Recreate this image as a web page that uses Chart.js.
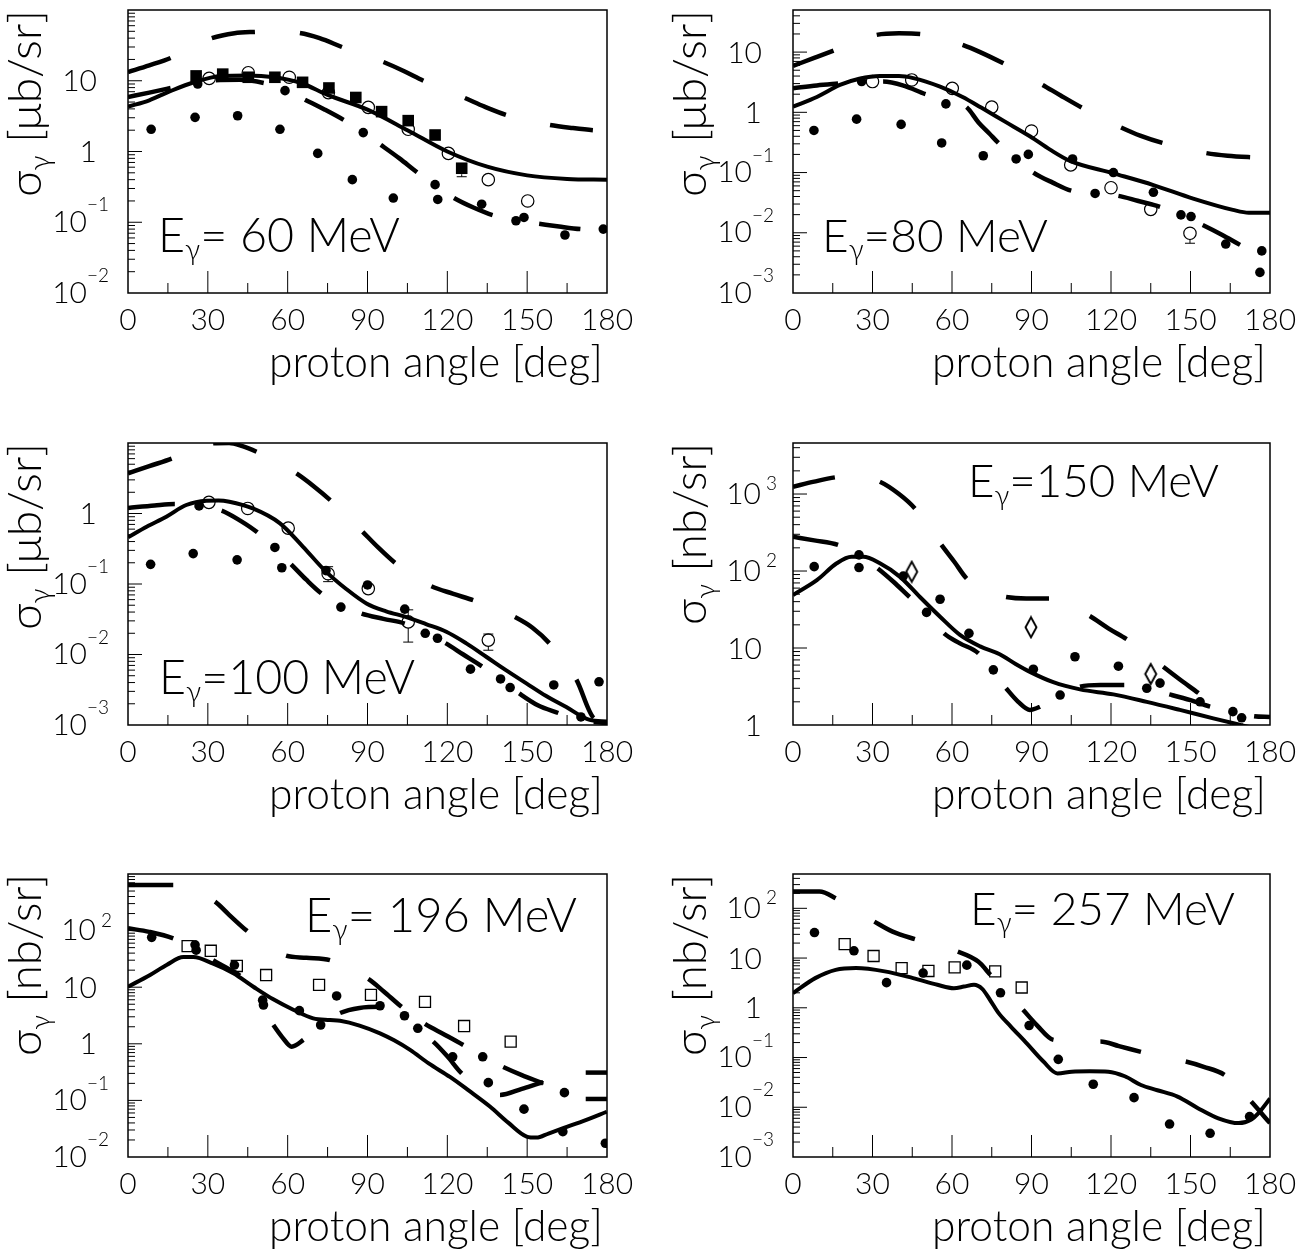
<!DOCTYPE html>
<html>
<head>
<meta charset="utf-8">
<script src="https://cdn.jsdelivr.net/npm/chart.js@4.4.0/dist/chart.umd.min.js"></script>
<style>
  html, body { margin: 0; padding: 0; background: #fff; }
  #wrap { position: relative; width: 1310px; height: 1254px; }
  #wrap canvas { position: absolute; left: 0; top: 0; }
</style>
</head>
<body>
<div id="wrap"></div>
<script>
const FONT = "Lato, 'Open Sans', 'DejaVu Sans', sans-serif";
const W = 1310, H = 1254;

const xTickLabels = [0, 30, 60, 90, 120, 150, 180];
const energyText = ['= 60 MeV', '=80 MeV', '=100 MeV', '=150 MeV', '= 196 MeV', '= 257 MeV'];
const unitText = ['μb/sr', 'μb/sr', 'μb/sr', 'nb/sr', 'nb/sr', 'nb/sr'];

// E = 60 MeV
const p1YTicks = [0.01, 0.1, 1, 10];
const p1Solid = [[0,4.3],[8,5.3],[15,6.9],[25,9.6],[35,11.7],[45,11.9],[55,11.2],[65,9.3],[75,6.3],[90,3.9],[105,2.0],[120,1.0],[135,0.61],[150,0.46],[165,0.41],[180,0.40]];
const p1DashA = [[0,13.3],[8,16.5],[16,21],[24,30],[31.5,40],[40,47],[47.7,49],[56,50],[64.6,47.3],[72,40],[80.4,30],[88,23.5],[96,18.4],[104,13.5],[111,10],[119,7.5],[126.6,5.7],[134,4.3],[142,3.3],[150,2.75],[158.6,2.37],[167,2.15],[174.7,2.0],[180,1.95]];
const p1DashB = [[0,5.9],[8,6.8],[16,7.9],[24,9.2],[33,10.2],[42,10.3],[51,9.3],[59,7.5],[66.5,5.4],[74,3.9],[81,2.8],[88,1.9],[95,1.24],[102,0.8],[108.6,0.51],[115,0.34],[122.5,0.22],[130,0.16],[137,0.126],[146,0.105],[154.5,0.095],[162,0.087],[170,0.080],[180,0.076]];
const p1Dots = [[8.7,2.06],[25.2,3.04],[26.2,9.0],[41.2,3.2],[57.1,2.06],[59,7.25],[71.3,0.94],[84.3,0.40],[88.4,1.85],[99.7,0.22],[115.4,0.34],[116.4,0.21],[132.9,0.18],[145.8,0.105],[148.8,0.117],[164.2,0.066],[178.6,0.080]];
const p1FullSquares = [[25.6,11.7],[35.6,12.4],[45.2,11.2],[55.2,11.2],[65.6,9.5],[75.5,7.9],[85.6,5.8],[95.3,3.66],[105.3,2.73],[115.4,1.71],[125.4,0.58]];
const p1Circles = [[30.5,10.8],[45.2,13.0],[60.6,11.2],[75.3,6.8],[90.3,4.2],[105.3,2.06],[120.4,0.94],[135.4,0.40],[150.2,0.20]];
const p1Errors = [[125.4,0.58,0.44,0.66]];

// E = 80 MeV
const p2YTicks = [0.001, 0.01, 0.1, 1, 10];
const p2Solid = [[0,1.24],[9,1.8],[17.7,2.85],[25,3.6],[32.8,4.0],[40,4.0],[45.4,3.7],[55.5,2.67],[64,1.8],[71,1.2],[80,0.7],[89.4,0.40],[97,0.24],[104.5,0.156],[120.9,0.097],[136,0.062],[151,0.037],[166,0.024],[172,0.0215],[180,0.0215]];
const p2DashA = [[0,5.9],[8,8],[15.3,10.6],[24,15],[31.6,19.3],[40,20.5],[48,20],[56,17],[64,13.2],[70.6,10],[79.4,6.5],[87,4.3],[94.2,2.85],[101,1.9],[108.9,1.2],[116,0.82],[123.8,0.56],[131,0.41],[139.4,0.31],[148,0.25],[156,0.21],[164,0.19],[172.5,0.18],[180,0.175]];
const p2DashB = [[0,2.5],[9,2.8],[17,3.0],[25,3.2],[34,3.24],[42,2.75],[50,2.0],[58,1.6],[65.5,1.22],[70,0.68],[74,0.45],[77.5,0.31],[84,0.17],[90.7,0.10],[98,0.068],[105,0.05],[114,0.045],[122.8,0.041],[130,0.034],[138.5,0.027],[146,0.02],[154.6,0.0135],[162,0.0092],[168.7,0.0063],[175,0.0045],[180,0.0035]];
const p2Dots = [[7.9,0.50],[24,0.77],[25.9,3.24],[40.8,0.63],[56.1,0.31],[57.7,1.38],[71.8,0.19],[84.2,0.168],[88.8,0.20],[105.5,0.168],[114,0.045],[120.9,0.10],[136,0.047],[146.4,0.0198],[150.2,0.0186],[163.3,0.0065],[176.9,0.005],[176.2,0.0022]];
const p2Circles = [[30,3.24],[44.8,3.45],[60.1,2.5],[75,1.22],[90,0.49],[104.8,0.134],[120,0.056],[135,0.0245],[149.8,0.0098]];
const p2Errors = [[104.8,0.134,0.110,0.134],[120,0.056,0.046,0.056],[135,0.0245,0.0198,0.0245],[149.8,0.0098,0.0067,0.0122]];

// E = 100 MeV
const p3YTicks = [0.001, 0.01, 0.1, 1];
const p3Solid = [[0,0.46],[7,0.65],[14.4,0.90],[21.9,1.32],[29.4,1.52],[34,1.53],[38.1,1.47],[46.9,1.18],[57,0.73],[65.7,0.34],[74,0.155],[82,0.085],[89.6,0.053],[97,0.041],[104.6,0.034],[112,0.027],[119.6,0.021],[127,0.0145],[134.6,0.0093],[142,0.006],[149.7,0.0039],[157,0.0026],[164.7,0.0018],[173.5,0.00118],[180,0.00112]];
const p3DashA = [[0,3.7],[8,4.7],[16.4,6.0],[24,8.0],[32,9.9],[38,10.0],[43,9.0],[48.3,7.5],[56,5.4],[63.3,3.7],[70,2.4],[76,1.55],[82,0.95],[88.2,0.55],[94,0.33],[100.3,0.2],[107,0.13],[114,0.093],[122,0.073],[129.7,0.059],[137,0.047],[145.4,0.034],[152,0.024],[158.3,0.0145],[163,0.0085],[168.5,0.0044],[175,0.00126],[180,0.0011]];
const p3DashB = [[0,1.2],[10,1.3],[17.6,1.36],[26,1.3],[35.2,1.1],[42,0.8],[48.6,0.54],[55,0.32],[61.3,0.19],[67,0.115],[72.6,0.074],[80,0.05],[87.8,0.038],[96,0.032],[104,0.0275],[112,0.02],[119.3,0.0145],[126,0.01],[133,0.0068],[140,0.0044],[147,0.0028],[154,0.0019],[161.7,0.00148],[168,0.00122],[175,0.0011],[180,0.00107]];
const p3Dots = [[8.5,0.19],[24.5,0.27],[26.7,1.28],[41,0.22],[55.2,0.33],[57.8,0.17],[74.4,0.155],[80,0.047],[90,0.097],[104,0.044],[111.7,0.020],[116.3,0.017],[128.7,0.0062],[140,0.0045],[143.6,0.0034],[160,0.0037],[170.2,0.0013],[177,0.0041]];
const p3Circles = [[30.4,1.44],[45,1.18],[60.2,0.62],[75.2,0.14],[90.3,0.086],[105.3,0.029],[135.4,0.016]];
const p3Errors = [[75.2,0.14,0.108,0.176],[90.3,0.086,0.074,0.102],[105.3,0.029,0.015,0.043],[135.4,0.016,0.0115,0.0195]];

// E = 150 MeV
const p4YTicks = [1, 10, 100, 1000];
const p4Solid = [[0,48.8],[9,76],[16.5,126],[22.1,153],[26.5,153],[32.8,126],[40.4,84],[47.9,46],[55.5,25.5],[63,14.8],[70.6,10.5],[78,8.3],[84,6.2],[89.4,4.9],[98.2,3.6],[108.3,2.9],[120.9,2.5],[133.5,2.0],[146,1.57],[158.6,1.22],[167.4,1.03],[175,0.9],[180,0.85]];
const p4DashA = [[0,1245],[8,1450],[15.8,1645],[24,1750],[32.8,1445],[40,1000],[46,650],[51,380],[56,218],[61,130],[65.5,80],[72,55],[80.4,46],[88,44],[96.6,44],[104,36],[112,26],[119,18],[125.9,13],[133,8.7],[139.7,5.7],[146,3.9],[153,2.6],[161,1.6],[169,1.0],[175,0.7],[180,0.55]];
const p4DashB = [[0,279],[8,250],[17,218],[25,160],[32,108],[38,72],[44,46],[50,30],[57,15.5],[63,11.5],[70,8.5],[75,5],[80.4,3.0],[85,2.0],[89.4,1.57],[93.2,1.73],[100,2.4],[108.3,3.15],[116,3.3],[125,3.3],[133,3.0],[142,2.5],[150,2.1],[157.4,1.73],[165,1.5],[174,1.3],[180,1.27]];
const p4Dots = [[8,114],[24.9,162],[24.9,111],[41.6,86],[50.4,29],[55.5,43],[66.4,15.5],[75.6,5.2],[90.7,5.3],[100.8,2.45],[106.4,7.7],[122.8,5.8],[133.5,3.0],[138.5,3.5],[153.6,2.0],[166,1.49],[169.3,1.24]];
const p4Diamonds = [[44.8,98],[89.8,18.6],[135,4.6]];

// E = 196 MeV
const p5YTicks = [0.01, 0.1, 1, 10, 100];
const p5Solid = [[0,10.2],[8.3,16.4],[14.5,24.7],[20.8,34],[24.5,34],[32,26],[39.6,17.6],[47.1,10.2],[54.6,6.1],[62.1,4.0],[69.6,2.82],[75.9,2.63],[79.7,2.55],[87,2.1],[94.7,1.53],[100,1.15],[106,0.78],[113,0.45],[121,0.26],[128,0.15],[136,0.078],[143,0.04],[149.8,0.023],[153.5,0.022],[158,0.026],[164.9,0.034],[172,0.045],[179.9,0.063]];
const p5DashA = [[0,640],[8,640],[17,640],[24,510],[32.7,324],[38,190],[44.8,98],[52,55],[59.4,36],[67,33],[75.9,30],[83,21],[90.3,14],[96,8.5],[102.8,4.5],[111.6,2.24],[119,1.45],[126,0.95],[133,0.6],[141,0.39],[148,0.28],[156,0.2],[164,0.14],[172,0.106],[180,0.106]];
const p5DashB = [[0,110],[8,95],[17,73],[25,48],[32,30],[37,22],[42,16],[48,6.5],[54.6,2.15],[58,1.3],[61.5,0.89],[65.9,1.17],[72,2.1],[79.7,3.5],[87,4.3],[95.3,4.5],[105,2.4],[114.7,1.09],[120,0.6],[125.4,0.30],[132,0.18],[139.8,0.125],[148,0.16],[156,0.21],[164,0.26],[172,0.31],[180,0.31]];
const p5Dots = [[8.9,76],[25.2,56],[25.6,45],[40,24.6],[50.6,5.9],[50.9,4.85],[64.4,3.85],[72.4,2.15],[78.4,7.0],[94.7,4.7],[103.9,3.13],[108.9,1.88],[122,0.59],[133.3,0.59],[135.4,0.206],[148.8,0.07],[164,0.137],[163.4,0.028],[179.4,0.0175]];
const p5OpenSquares = [[22.4,53],[31.1,44],[40.9,23.7],[51.9,16.4],[71.8,11],[91.3,7.3],[111.6,5.5],[126.3,2.06],[143.8,1.09]];

// E = 257 MeV
const p6YTicks = [0.001, 0.01, 0.1, 1, 10, 100];
const p6Solid = [[0,1.97],[8.4,3.95],[16.1,5.8],[23.8,6.3],[34.6,5.4],[45.3,3.95],[54.5,2.9],[60.7,2.48],[64.5,2.67],[68.3,2.9],[71.4,2.4],[74.5,1.4],[77.6,0.78],[82.2,0.42],[88.3,0.19],[94.5,0.083],[99.8,0.048],[105.2,0.052],[112,0.053],[119,0.052],[125.2,0.042],[131.3,0.028],[137.5,0.022],[145.1,0.0164],[152.8,0.0096],[160.5,0.006],[168.2,0.0048],[172.8,0.0056],[176,0.008],[180,0.015]];
const p6DashA = [[0,218],[10,218],[16.1,160],[23,95],[30.7,54],[37.6,34],[46,24],[54,18],[62.2,13.5],[69.9,8.5],[74.5,4.6],[80,2.2],[86.8,0.91],[92,0.45],[98.3,0.226],[107,0.21],[116,0.21],[123,0.17],[131.3,0.13],[140,0.1],[148.2,0.083],[155,0.065],[162.8,0.045],[168,0.025],[172.9,0.013],[180,0.0048]];
const p6Dots = [[8.1,32.6],[23,14],[35.3,3.2],[49.1,5.0],[65.6,7.2],[78.3,2.0],[89.1,0.44],[100.1,0.092],[113.3,0.029],[128.7,0.0156],[142.1,0.0046],[157.4,0.003],[172.3,0.0065]];
const p6OpenSquares = [[19.5,19],[30.4,11],[41,6.3],[51.1,5.5],[61,6.5],[76.3,5.4],[86.3,2.56]];

// angle ranges where each long-dashed curve is inked (the dash pattern)
const p1DashAOn = [[0,16],[31.5,47.7],[64.6,80.4],[96,111],[126.6,142],[158.6,174.7]];
const p1DashBOn = [[0,16],[33,51],[66.5,81],[95,108.6],[122.5,137],[154.5,170]];
const p2DashAOn = [[0,15.3],[31.6,48],[64,79.4],[94.2,108.9],[123.8,139.4],[156,172.5]];
const p2DashBOn = [[0,17],[34,50],[65.5,77.5],[90.7,105],[122.8,138.5],[154.6,168.7]];
const p3DashAOn = [[0,16.4],[32,48.3],[63.3,76],[88.2,100.3],[114,129.7],[145.4,158.3],[168.5,175]];
const p3DashBOn = [[0,17.6],[35.2,48.6],[61.3,72.6],[87.8,104],[119.3,133],[147,161.7],[175,180]];
const p4DashAOn = [[0,15.8],[32.8,46],[56,65.5],[80.4,96.6],[112,125.9],[139.7,153],[169,180]];
const p4DashBOn = [[0,17],[32,44],[57,70],[80.4,93.2],[108.3,125],[142,157.4],[174,180]];
const p5DashAOn = [[0,17],[32.7,44.8],[59.4,75.9],[90.3,102.8],[111.6,126],[141,156],[172,180]];
const p5DashBOn = [[0,17],[32,42],[54.6,65.9],[79.7,95.3],[114.7,125.4],[139.8,156],[172,180]];
const p6DashAOn = [[0,16.1],[30.7,46],[62.2,74.5],[86.8,98.3],[116,131.3],[148.2,162.8],[172.9,180]];

// frame of each panel in page pixels: left, right, top, bottom
const frames = [[128,607,10,293],[793,1270,10,293],[128,607,443,725],[793,1270,443,725],[128,607,874,1157],[793,1270,874,1157]];
const yRanges = [[0.01,100],[0.001,50],[0.001,10],[1,4600],[0.01,1000],[0.001,490]];
// energy label: x, baseline, width
const energyPos = [[158,252,242],[822,252,226],[159,694,256],[968,497,251],[305,932,272],[970,925,265]];

function pts(a) { return a.map(p => ({ x: p[0], y: p[1] })); }

function solidLine(d) {
  return { data: pts(d), borderColor: '#000', borderWidth: 4, pointRadius: 0, pointHoverRadius: 0,
    cubicInterpolationMode: 'monotone', fill: false };
}
function dashLine(d, on) {
  const data = pts(d);
  return Object.assign(solidLine(d), {
    data, borderWidth: 4.5, borderCapStyle: 'butt',
    segment: {
      borderColor: c => {
        const m = (data[c.p0DataIndex].x + data[c.p1DataIndex].x) / 2;
        return on.some(r => m >= r[0] && m <= r[1]) ? '#000' : 'rgba(0,0,0,0)';
      }
    }
  });
}
function dots(d) {
  return { data: pts(d), showLine: false, pointStyle: 'circle', pointRadius: 4.8,
    pointBackgroundColor: '#000', pointBorderWidth: 0 };
}
function openCircles(d) {
  return { data: pts(d), showLine: false, pointStyle: 'circle', pointRadius: 6.2,
    pointBackgroundColor: 'rgba(0,0,0,0)', pointBorderColor: '#000', pointBorderWidth: 1.2 };
}
function fullSquares(d) {
  return { data: pts(d), showLine: false, pointStyle: 'rect', pointRadius: 8.2,
    pointBackgroundColor: '#000', pointBorderWidth: 0 };
}
function openSquares(d) {
  return { data: pts(d), showLine: false, pointStyle: 'rect', pointRadius: 7.8,
    pointBackgroundColor: 'rgba(0,0,0,0)', pointBorderColor: '#000', pointBorderWidth: 1.3 };
}

// tall open diamond, like the PAW marker
const diamondImg = document.createElement('canvas');
diamondImg.width = 16; diamondImg.height = 24;
(function () {
  const c = diamondImg.getContext('2d');
  c.strokeStyle = '#000'; c.lineWidth = 1.9;
  c.beginPath(); c.moveTo(8, 2); c.lineTo(13.5, 12); c.lineTo(8, 22); c.lineTo(2.5, 12); c.closePath();
  c.stroke();
})();
function diamonds(d) {
  return { data: pts(d), showLine: false, pointStyle: diamondImg, pointRadius: 10 };
}

function richWidth(ctx, parts, size) {
  let w = 0;
  parts.forEach(p => { ctx.font = `300 ${size * p.s}px ${FONT}`; w += ctx.measureText(p.t).width; });
  return w;
}
function drawRich(ctx, parts, x, y, size) {
  let cx = x;
  ctx.textAlign = 'left';
  ctx.textBaseline = 'alphabetic';
  parts.forEach(p => {
    ctx.font = `300 ${size * p.s}px ${FONT}`;
    ctx.fillText(p.t, cx, y + (p.dy || 0) * size);
    cx += ctx.measureText(p.t).width;
  });
}
function fitSize(ctx, parts, width) {
  return 40 * width / richWidth(ctx, parts, 40);
}

function yLabel(ctx, v, L, y) {
  const e = Math.round(Math.log10(v));
  ctx.fillStyle = '#000';
  ctx.textBaseline = 'middle';
  ctx.font = `300 30px ${FONT}`;
  if (e === 0 || e === 1) {
    ctx.textAlign = 'right';
    ctx.fillText(e === 0 ? '1' : '10', L - 31, y + 1);
    return;
  }
  const neg = e < 0;
  const base = neg ? L - 41 : L - 32;
  ctx.textAlign = 'right';
  ctx.fillText('10', base, y);
  ctx.font = `300 19px ${FONT}`;
  ctx.textAlign = 'left';
  ctx.fillText((neg ? '\u2212' : '') + Math.abs(e), neg ? base : base + 5, y - (neg ? 17 : 10));
}

const pawFrame = {
  id: 'pawFrame',
  afterDatasetsDraw(chart, args, o) {
    const ctx = chart.ctx, a = chart.chartArea, xs = chart.scales.x, ys = chart.scales.y;
    ctx.save();
    ctx.strokeStyle = '#000';
    ctx.fillStyle = '#000';

    // error bars, kept outside the marker
    ctx.lineWidth = 1;
    (o.errors || []).forEach(e => {
      const px = xs.getPixelForValue(e[0]), py = ys.getPixelForValue(e[1]);
      const lo = ys.getPixelForValue(e[2]), hi = ys.getPixelForValue(e[3]);
      ctx.beginPath();
      if (lo > py + 6) { ctx.moveTo(px, py + 6); ctx.lineTo(px, lo); ctx.moveTo(px - 5, lo); ctx.lineTo(px + 5, lo); }
      if (hi < py - 6) { ctx.moveTo(px, py - 6); ctx.lineTo(px, hi); ctx.moveTo(px - 5, hi); ctx.lineTo(px + 5, hi); }
      ctx.stroke();
    });

    // frame
    ctx.lineWidth = 1.5;
    ctx.strokeRect(a.left, a.top, a.right - a.left, a.bottom - a.top);

    // x ticks, inside
    ctx.lineWidth = 1;
    ctx.beginPath();
    for (let d = 15; d < 180; d += 15) {
      const px = xs.getPixelForValue(d);
      ctx.moveTo(px, a.bottom);
      ctx.lineTo(px, a.bottom - (d % 30 === 0 ? 22 : 10));
    }
    // y ticks, inside
    const d0 = Math.floor(Math.log10(ys.min)), d1 = Math.ceil(Math.log10(ys.max));
    for (let d = d0; d <= d1; d++) {
      for (let m = 1; m <= 9; m++) {
        const v = m * Math.pow(10, d);
        if (v <= ys.min * 1.0001 || v >= ys.max * 0.9999) continue;
        const py = ys.getPixelForValue(v);
        ctx.moveTo(a.left, py);
        ctx.lineTo(a.left + (m === 1 ? 14 : 7), py);
      }
    }
    ctx.stroke();

    // x tick labels
    ctx.font = `300 30px ${FONT}`;
    ctx.textAlign = 'center';
    ctx.textBaseline = 'alphabetic';
    xTickLabels.forEach(t => ctx.fillText(String(t), xs.getPixelForValue(t), a.bottom + 37));

    // y tick labels
    o.yTicks.forEach(v => yLabel(ctx, v, a.left, ys.getPixelForValue(v)));

    // x axis title
    const xt = [{ t: 'proton angle [deg]', s: 1 }];
    const xsz = fitSize(ctx, xt, 334);
    drawRich(ctx, xt, a.right - 4 - 334, a.bottom + 84, xsz);

    // y axis title, rotated
    const yt = [{ t: 'σ', s: 1 }, { t: 'γ', s: 0.62, dy: 0.2 }, { t: ' [' + o.unit + ']', s: 1 }];
    const ylen = o.unit.startsWith('n') ? 182 : 187;
    const ysz = fitSize(ctx, yt, ylen);
    ctx.save();
    ctx.translate(a.left - 87, a.top + ylen);
    ctx.rotate(-Math.PI / 2);
    drawRich(ctx, yt, 0, 0, ysz);
    ctx.restore();

    // energy label
    const et = [{ t: 'E', s: 1 }, { t: 'γ', s: 0.62, dy: 0.17 }, { t: o.energy, s: 1 }];
    const esz = fitSize(ctx, et, o.ePos[2]);
    drawRich(ctx, et, o.ePos[0], o.ePos[1], esz);

    ctx.restore();
  }
};

function panel(i, yTicks, datasets, errors) {
  const cv = document.createElement('canvas');
  cv.width = W; cv.height = H;
  cv.style.width = W + 'px'; cv.style.height = H + 'px';
  document.getElementById('wrap').appendChild(cv);
  const f = frames[i];
  new Chart(cv, {
    type: 'line',
    data: { datasets },
    options: {
      responsive: false,
      animation: false,
      devicePixelRatio: 1,
      events: [],
      layout: { padding: { left: f[0], right: W - f[1], top: f[2], bottom: H - f[3] } },
      scales: {
        x: { type: 'linear', min: 0, max: 180, display: false },
        y: { type: 'logarithmic', min: yRanges[i][0], max: yRanges[i][1], display: false }
      },
      plugins: {
        legend: { display: false },
        tooltip: { enabled: false },
        pawFrame: { yTicks, errors, unit: unitText[i], energy: energyText[i], ePos: energyPos[i] }
      }
    },
    plugins: [pawFrame]
  });
}

panel(0, p1YTicks, [dots(p1Dots), fullSquares(p1FullSquares), openCircles(p1Circles),
  solidLine(p1Solid), dashLine(p1DashA, p1DashAOn), dashLine(p1DashB, p1DashBOn)], p1Errors);
panel(1, p2YTicks, [dots(p2Dots), openCircles(p2Circles),
  solidLine(p2Solid), dashLine(p2DashA, p2DashAOn), dashLine(p2DashB, p2DashBOn)], p2Errors);
panel(2, p3YTicks, [dots(p3Dots), openCircles(p3Circles),
  solidLine(p3Solid), dashLine(p3DashA, p3DashAOn), dashLine(p3DashB, p3DashBOn)], p3Errors);
panel(3, p4YTicks, [dots(p4Dots), diamonds(p4Diamonds),
  solidLine(p4Solid), dashLine(p4DashA, p4DashAOn), dashLine(p4DashB, p4DashBOn)], []);
panel(4, p5YTicks, [dots(p5Dots), openSquares(p5OpenSquares),
  solidLine(p5Solid), dashLine(p5DashA, p5DashAOn), dashLine(p5DashB, p5DashBOn)], []);
panel(5, p6YTicks, [dots(p6Dots), openSquares(p6OpenSquares),
  solidLine(p6Solid), dashLine(p6DashA, p6DashAOn)], []);
</script>
</body>
</html>
